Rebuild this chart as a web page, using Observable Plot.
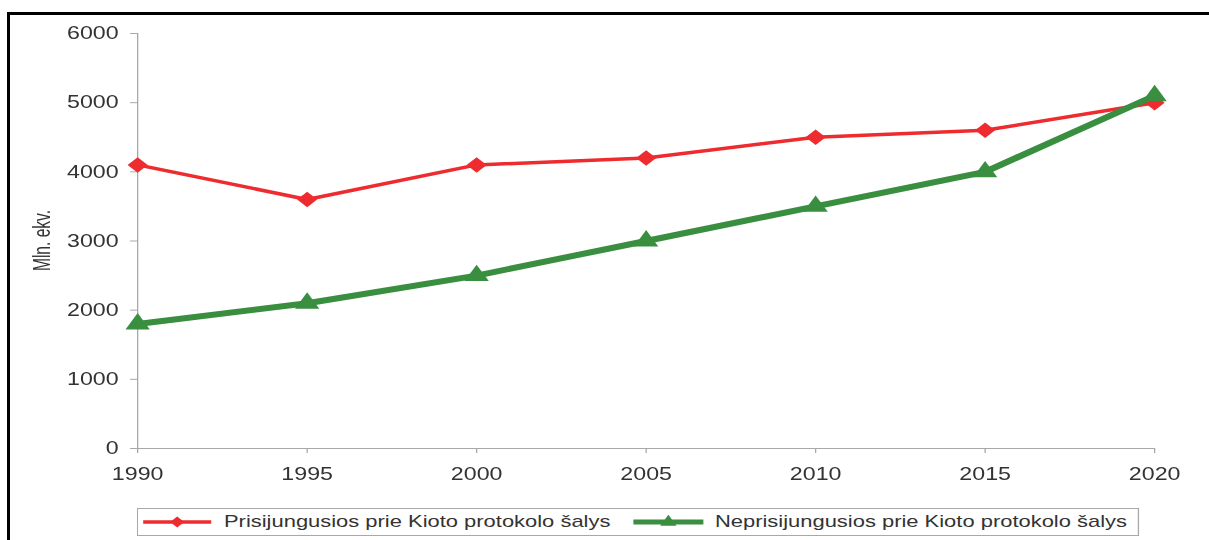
<!DOCTYPE html>
<html>
<head>
<meta charset="utf-8">
<script src="https://cdn.jsdelivr.net/npm/d3@7"></script>
<script src="https://cdn.jsdelivr.net/npm/@observablehq/plot@0.6"></script>
<style>
  html, body { margin: 0; padding: 0; background: #fff; overflow: hidden; width: 1209px; height: 540px; }
  #frame { position: absolute; left: 7px; top: 12px; width: 1300px; height: 600px;
           border-top: 3px solid #000; border-left: 3px solid #000; box-sizing: border-box; }
  #fig { position: absolute; left: 0; top: 0; transform-origin: 0 0;
         font-family: "Liberation Sans", Arial, sans-serif; }
  #legend { position: absolute; border: 1px solid #a8a8a8; box-sizing: border-box; background: #fff; }
  .item-swatch { position: absolute; top: 50%; transform: translateY(-50%); }
  .item-text { position: absolute; top: 50%; transform: translateY(-50%); font-size: 17px; color: #333; white-space: nowrap; }
</style>
</head>
<body>
<div id="frame"></div>
<div id="fig"></div>
<script>
// Emissions, million tonnes CO2 equivalent
const years = [1990, 1995, 2000, 2005, 2010, 2015, 2020];
const kyotoParties = [4100, 3600, 4100, 4200, 4500, 4600, 5000];
const nonParties = [1800, 2100, 2500, 3000, 3500, 4000, 5100];
const seriesNames = [
  "Prisijungusios prie Kioto protokolo šalys",
  "Neprisijungusios prie Kioto protokolo šalys"
];
const yTicks = [0, 1000, 2000, 3000, 4000, 5000, 6000];
const yLabel = "Mln. ekv.";

const colors = ["#ee2b2e", "#3a8e3f"];
const symbols = ["diamond2", "triangle"];
const widths = [3.5, 6];

// The whole figure is drawn a little narrow and stretched horizontally.
const sx = 1.29;
const W = 1209 / sx;
const H = 500;

const rows = [];
years.forEach((yr, i) => {
  rows.push({year: yr, value: kyotoParties[i], series: seriesNames[0]});
});
years.forEach((yr, i) => {
  rows.push({year: yr, value: nonParties[i], series: seriesNames[1]});
});

const fmt = d3.format("d");
const font = "Liberation Sans, Arial, sans-serif";

const marks = [
  Plot.ruleX([years[0]], {y1: 0, y2: 6000, stroke: "#a8a8a8", strokeWidth: 1}),
  Plot.ruleY([0], {x1: years[0], x2: years[years.length - 1], stroke: "#a8a8a8", strokeWidth: 1}),
  Plot.axisY({ticks: yTicks, tickSize: 5.4, tickPadding: 9.3, tickFormat: fmt, stroke: "#a8a8a8",
              fill: "#333", fontSize: 18, label: null}),
  Plot.axisX({ticks: years, tickSize: 5, tickPadding: 14, tickFormat: fmt, stroke: "#a8a8a8",
              fill: "#333", fontSize: 18, label: null})
];

seriesNames.forEach((name, i) => {
  const d = rows.filter(r => r.series === name);
  marks.push(Plot.line(d, {x: "year", y: "value", stroke: colors[i], strokeWidth: widths[i],
                           strokeLinejoin: "round", strokeLinecap: "round"}));
  marks.push(Plot.dot(d, {x: "year", y: "value", fill: colors[i], stroke: "none",
                          symbol: symbols[i], r: 7}));
});

const mTop = 33, mBottom = H - 448;
const chart = Plot.plot({
  width: W,
  height: H,
  marginTop: mTop,
  marginBottom: mBottom,
  marginLeft: 137 / sx,
  marginRight: (1209 - 1154) / sx,
  style: {fontFamily: font, background: "transparent", overflow: "visible"},
  x: {domain: [1990, 2020], axis: null},
  y: {domain: [0, 6000], axis: null},
  marks
});

// Narrow, rotated y-axis title
d3.select(chart).append("text")
  .attr("transform", `translate(${32},${(mTop + H - mBottom) / 2}) rotate(-90) scale(0.82,1)`)
  .attr("text-anchor", "middle")
  .attr("dy", "0.35em")
  .attr("font-size", 19)
  .attr("fill", "#333")
  .attr("font-family", font)
  .text(yLabel);

const fig = document.getElementById("fig");
fig.style.width = W + "px";
fig.style.transform = `scaleX(${sx})`;
fig.appendChild(chart);

// Legend box below the plot
const legend = document.createElement("div");
legend.id = "legend";
const legLeft = 137 / sx;
legend.style.left = legLeft + "px";
legend.style.top = "508px";
legend.style.width = ((1139 - 137) / sx) + "px";
legend.style.height = "28px";
fig.appendChild(legend);

const swatchX = [143 / sx, 633 / sx];
const swatchW = [68 / sx, 70 / sx];
const textX = [224 / sx, 715 / sx];
const swatchStroke = [3.5, 5];
const swatchSymbols = [d3.symbolDiamond2, d3.symbolTriangle];
const swatchSize = [75, 70];

seriesNames.forEach((name, i) => {
  const w = swatchW[i];
  const sw = d3.create("svg")
    .attr("class", "item-swatch")
    .attr("width", w).attr("height", 16)
    .style("left", (swatchX[i] - legLeft - 1) + "px")
    .style("overflow", "visible");
  sw.append("line")
    .attr("x1", 0).attr("x2", w).attr("y1", 8).attr("y2", 8)
    .attr("stroke", colors[i]).attr("stroke-width", swatchStroke[i]);
  sw.append("path")
    .attr("transform", `translate(${w / 2},8)`)
    .attr("d", d3.symbol(swatchSymbols[i], swatchSize[i])())
    .attr("fill", colors[i]);
  legend.appendChild(sw.node());

  const t = document.createElement("div");
  t.className = "item-text";
  t.style.left = (textX[i] - legLeft - 1) + "px";
  t.textContent = name;
  legend.appendChild(t);
});
</script>
</body>
</html>
